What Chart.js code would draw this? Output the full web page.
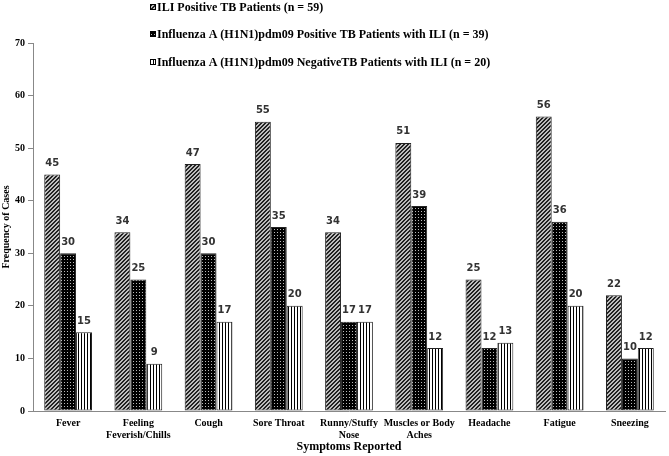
<!DOCTYPE html>
<html>
<head>
<meta charset="utf-8">
<script src="https://cdn.jsdelivr.net/npm/chart.js@4"></script>
<style>
  html, body { margin: 0; padding: 0; background: #fff; }
  #wrap { width: 669px; height: 456px; }
</style>
</head>
<body>
<div id="wrap"><canvas id="symptomChart" width="669" height="456"></canvas></div>
<script>
// chart values
const symptoms = [
    'Fever', ['Feeling', 'Feverish/Chills'], 'Cough', 'Sore Throat', ['Runny/Stuffy', 'Nose'],
    ['Muscles or Body', 'Aches'], 'Headache', 'Fatigue', 'Sneezing'
];
const seriesNames = [
    'ILI Positive TB Patients (n = 59)',
    'Influenza A (H1N1)pdm09 Positive TB Patients with ILI (n = 39)',
    'Influenza A (H1N1)pdm09 NegativeTB Patients with ILI (n = 20)'
];
const iliPositive = [45, 34, 47, 55, 34, 51, 25, 56, 22];
const h1n1Positive = [30, 25, 30, 35, 17, 39, 12, 36, 10];
const h1n1Negative = [15, 9, 17, 20, 17, 12, 13, 20, 12];
const yTicks = [0, 10, 20, 30, 40, 50, 60, 70];

const serif = "'Liberation Serif', 'Times New Roman', serif";

// small tiles used as bar fills
function makePattern(w, h, draw) {
    const c = document.createElement('canvas');
    c.width = w; c.height = h;
    const g = c.getContext('2d');
    draw(g);
    return g.createPattern(c, 'repeat');
}

const ctx = document.querySelector('#symptomChart').getContext('2d');

const hatch = makePattern(4, 4, g => {
    g.fillStyle = '#bdbdbd';
    g.fillRect(0, 0, 4, 4);
    g.fillStyle = '#222';
    for (let i = 0; i < 4; i++) {
        g.fillRect(i, 3 - i, 1, 1);
        g.fillRect((i + 1) % 4, 3 - i, 1, 1);
    }
});
const dots = makePattern(3, 3, g => {
    g.fillStyle = '#000';
    g.fillRect(0, 0, 3, 3);
    g.fillStyle = '#bbb';
    g.fillRect(1, 1, 1, 1);
});
const stripes = makePattern(3, 1, g => {
    g.fillStyle = '#fff';
    g.fillRect(0, 0, 3, 1);
    g.fillStyle = '#000';
    g.fillRect(0, 0, 1, 1);
});
const fills = [hatch, dots, stripes];

// value labels above each bar
const valueLabels = {
    id: 'valueLabels',
    afterDatasetsDraw(chart) {
        const c = chart.ctx;
        c.save();
        c.font = "bold 10px 'DejaVu Sans', sans-serif";
        c.fillStyle = '#333';
        c.textAlign = 'center';
        c.textBaseline = 'bottom';
        chart.data.datasets.forEach((ds, i) => {
            chart.getDatasetMeta(i).data.forEach((bar, j) => {
                c.fillText(ds.data[j], bar.x, bar.y - 6);
            });
        });
        c.restore();
    }
};

// stacked legend at the top
const topLegend = {
    id: 'topLegend',
    afterDraw(chart) {
        const c = chart.ctx;
        const rows = [7, 34, 62];
        c.save();
        c.font = 'bold 12px ' + serif;
        c.textBaseline = 'middle';
        chart.data.datasets.forEach((ds, i) => {
            const y = rows[i];
            c.fillStyle = fills[i];
            c.fillRect(150, y - 3, 6, 6);
            c.strokeStyle = '#000';
            c.lineWidth = 1;
            c.strokeRect(150.5, y - 2.5, 5, 5);
            c.fillStyle = '#000';
            c.fillText(ds.label, 157, y + 1);
        });
        c.restore();
    }
};

const datasets = [iliPositive, h1n1Positive, h1n1Negative].map((values, i) => ({
    label: seriesNames[i],
    data: values,
    backgroundColor: fills[i],
    borderColor: '#222',
    borderWidth: 1,
    borderSkipped: false
}));

new Chart(ctx, {
    type: 'bar',
    data: { labels: symptoms, datasets: datasets },
    options: {
        responsive: false,
        animation: false,
        categoryPercentage: 0.68,
        barPercentage: 1,
        layout: { padding: { top: 43, right: 4, left: 0, bottom: 0 } },
        plugins: {
            legend: { display: false },
            tooltip: { enabled: false }
        },
        scales: {
            x: {
                grid: { display: false, drawTicks: false },
                border: { color: '#888', width: 1 },
                ticks: {
                    color: '#000',
                    font: { family: serif, size: 10, weight: 'bold' },
                    maxRotation: 0,
                    autoSkip: false,
                    padding: 6
                },
                title: {
                    display: true,
                    text: 'Symptoms Reported',
                    color: '#000',
                    font: { family: serif, size: 12, weight: 'bold' },
                    padding: { top: 0, bottom: 2 }
                },
                afterFit(scale) { scale.height = 45; }
            },
            y: {
                min: 0,
                max: 70,
                afterBuildTicks(scale) { scale.ticks = yTicks.map(v => ({ value: v })); },
                grid: { drawOnChartArea: false, tickLength: 5, color: '#888' },
                border: { color: '#888', width: 1 },
                ticks: {
                    color: '#000',
                    font: { family: serif, size: 10, weight: 'bold' },
                    padding: 3
                },
                title: {
                    display: true,
                    text: 'Frequency of Cases',
                    color: '#000',
                    font: { family: serif, size: 10, weight: 'bold' },
                    padding: { top: 0, bottom: 0 }
                },
                afterFit(scale) { scale.width = 33; }
            }
        }
    },
    plugins: [valueLabels, topLegend]
});
</script>
</body>
</html>
